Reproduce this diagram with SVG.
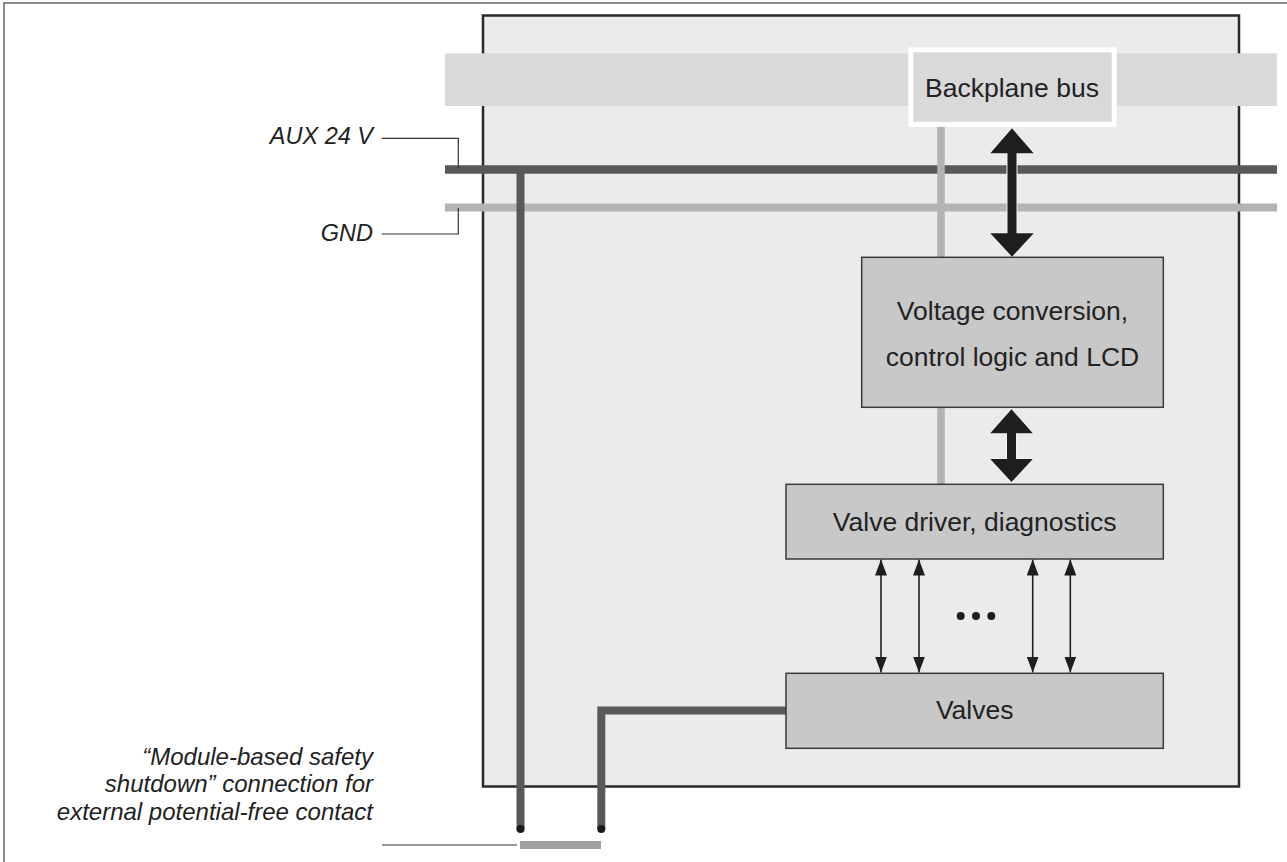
<svg xmlns="http://www.w3.org/2000/svg" width="1287" height="862" viewBox="0 0 1287 862">
<style>
.box{fill:#c8c8c8;stroke:#3a3a3a;stroke-width:1.5}
.lbl{font-family:"Liberation Sans",Arial,Helvetica,sans-serif;font-size:26.5px;fill:#222;text-anchor:middle}
.ital{font-family:"Liberation Sans",Arial,Helvetica,sans-serif;font-size:23.5px;font-style:italic;fill:#222;text-anchor:end}
.ital2{font-family:"Liberation Sans",Arial,Helvetica,sans-serif;font-size:24px;font-style:italic;fill:#222;text-anchor:end}
.lead{fill:none;stroke:#333;stroke-width:1.2}
.bigarrow{fill:#1e1e1e;stroke:#f2f2f2;stroke-width:2;paint-order:stroke}
.thin{stroke:#1e1e1e;stroke-width:1.6;fill:none;marker-start:url(#ah);marker-end:url(#ah)}
</style>
<defs>
<marker id="ah" viewBox="0 0 16 12" refX="16" refY="6" markerWidth="16" markerHeight="12" markerUnits="userSpaceOnUse" orient="auto-start-reverse">
<path d="M0,0 L16,6 L0,12 Z" fill="#1e1e1e"/>
</marker>
</defs>
<rect width="1287" height="862" fill="#ffffff"/>
<path d="M4,862 V3 H1287" fill="none" stroke="#666" stroke-width="1.5"/>

<g id="module">
<rect x="483" y="15.5" width="756" height="771" fill="#ebebeb" stroke="#2a2a2a" stroke-width="2.5"/>
</g>

<g id="backplane-band">
<rect x="445" y="53.3" width="832" height="52.7" fill="#d9d9d9"/>
</g>

<g id="connectors">
<line x1="445" y1="169.5" x2="1277" y2="169.5" stroke="#595959" stroke-width="8.5"/>
<line x1="445" y1="207.5" x2="1277" y2="207.5" stroke="#b3b3b3" stroke-width="8"/>
<line x1="941" y1="127" x2="941" y2="485" stroke="#b3b3b3" stroke-width="7.5"/>
<line x1="520.5" y1="166" x2="520.5" y2="829" stroke="#595959" stroke-width="8"/>
<polyline points="601.3,829 601.3,710.5 786,710.5" fill="none" stroke="#595959" stroke-width="8" stroke-linejoin="miter"/>
<circle cx="520.5" cy="829" r="4" fill="#1a1a1a"/>
<circle cx="601.3" cy="829" r="4" fill="#1a1a1a"/>
<rect x="520" y="841" width="81" height="8" fill="#a0a0a0"/>
<line x1="382" y1="845" x2="517" y2="845" class="lead"/>
<polyline points="381.7,138.3 458.3,138.3 458.3,168" class="lead"/>
<polyline points="381.7,234 458.3,234 458.3,208" class="lead"/>
<polygon class="bigarrow" points="1012,128.3 1033.7,153.3 1016.5,153.3 1016.5,233.3 1033.7,233.3 1012,256.7 990.3,233.3 1007.5,233.3 1007.5,153.3 990.3,153.3"/>
<polygon class="bigarrow" points="1011.5,409.3 1032.8,433.3 1016,433.3 1016,459 1032.8,459 1011.5,482 990.2,459 1007,459 1007,433.3 990.2,433.3"/>
<line class="thin" x1="881" y1="559.5" x2="881" y2="672.5"/>
<line class="thin" x1="919" y1="559.5" x2="919" y2="672.5"/>
<line class="thin" x1="1032.7" y1="559.5" x2="1032.7" y2="672.5"/>
<line class="thin" x1="1070.3" y1="559.5" x2="1070.3" y2="672.5"/>
<circle cx="960.7" cy="616" r="4" fill="#1e1e1e"/>
<circle cx="976" cy="616" r="4" fill="#1e1e1e"/>
<circle cx="991.3" cy="616" r="4" fill="#1e1e1e"/>
</g>

<g id="backplane-bus">
<rect x="910.8" y="49.8" width="203.4" height="74.5" fill="#d9d9d9" stroke="#ffffff" stroke-width="5"/>
<text class="lbl" x="1012" y="97">Backplane bus</text>
</g>

<g id="voltage-conversion">
<rect class="box" x="861.7" y="257.3" width="301.6" height="150"/>
<text class="lbl" x="1012.5" y="320">Voltage conversion,</text>
<text class="lbl" x="1012.5" y="366">control logic and LCD</text>
</g>

<g id="valve-driver">
<rect class="box" x="786" y="484.3" width="377.3" height="74.7"/>
<text class="lbl" x="974.7" y="531">Valve driver, diagnostics</text>
</g>

<g id="valves">
<rect class="box" x="786" y="673.3" width="377.3" height="75"/>
<text class="lbl" x="974.7" y="719.3">Valves</text>
</g>

<g id="labels">
<text class="ital" x="373" y="144">AUX 24 V</text>
<text class="ital" x="373" y="240.7">GND</text>
<text class="ital2" x="373" y="764.5">“Module-based safety</text>
<text class="ital2" x="373" y="792">shutdown” connection for</text>
<text class="ital2" x="373" y="819.5">external potential-free contact</text>
</g>
</svg>
